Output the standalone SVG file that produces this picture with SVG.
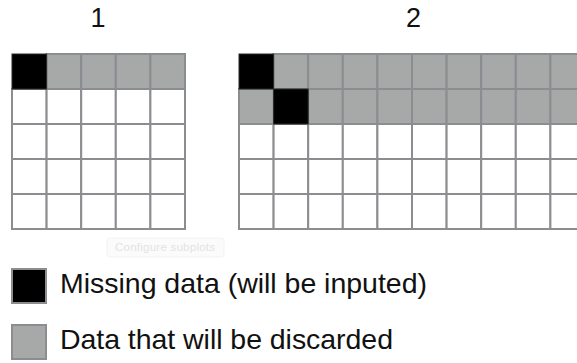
<svg xmlns="http://www.w3.org/2000/svg" width="577" height="363" viewBox="0 0 577 363">
<style>
.w{fill:#ffffff;stroke:#8b8d90;stroke-width:2}
.g{fill:#a6a9a8;stroke:#8b8d90;stroke-width:2}
.b{fill:#000000;stroke:#2a2a2a;stroke-width:1}
.t{font-family:"Liberation Sans",Arial,sans-serif;fill:#111111}
</style>
<defs>
<rect id="c" width="34.6" height="35"/>
</defs>
<rect width="577" height="363" fill="#ffffff"/>
<g id="title1"><text class="t" x="98" y="27" font-size="27" text-anchor="middle">1</text></g>
<g id="title2"><text class="t" x="413.5" y="27" font-size="27" text-anchor="middle">2</text></g>
<g id="grid1">
<g class="g">
<use href="#c" x="46.6" y="54"/><use href="#c" x="81.2" y="54"/><use href="#c" x="115.8" y="54"/><use href="#c" x="150.4" y="54"/>
</g>
<g class="w">
<use href="#c" x="12" y="89"/><use href="#c" x="46.6" y="89"/><use href="#c" x="81.2" y="89"/><use href="#c" x="115.8" y="89"/><use href="#c" x="150.4" y="89"/>
<use href="#c" x="12" y="124"/><use href="#c" x="46.6" y="124"/><use href="#c" x="81.2" y="124"/><use href="#c" x="115.8" y="124"/><use href="#c" x="150.4" y="124"/>
<use href="#c" x="12" y="159"/><use href="#c" x="46.6" y="159"/><use href="#c" x="81.2" y="159"/><use href="#c" x="115.8" y="159"/><use href="#c" x="150.4" y="159"/>
<use href="#c" x="12" y="194"/><use href="#c" x="46.6" y="194"/><use href="#c" x="81.2" y="194"/><use href="#c" x="115.8" y="194"/><use href="#c" x="150.4" y="194"/>
</g>
<use href="#c" class="b" x="12" y="54"/>
</g>
<g id="grid2">
<g class="g">
<use href="#c" x="273.6" y="54"/><use href="#c" x="308.2" y="54"/><use href="#c" x="342.8" y="54"/><use href="#c" x="377.4" y="54"/><use href="#c" x="412" y="54"/><use href="#c" x="446.6" y="54"/><use href="#c" x="481.2" y="54"/><use href="#c" x="515.8" y="54"/><use href="#c" x="550.4" y="54"/>
<use href="#c" x="239" y="89"/><use href="#c" x="308.2" y="89"/><use href="#c" x="342.8" y="89"/><use href="#c" x="377.4" y="89"/><use href="#c" x="412" y="89"/><use href="#c" x="446.6" y="89"/><use href="#c" x="481.2" y="89"/><use href="#c" x="515.8" y="89"/><use href="#c" x="550.4" y="89"/>
</g>
<g class="w">
<use href="#c" x="239" y="124"/><use href="#c" x="273.6" y="124"/><use href="#c" x="308.2" y="124"/><use href="#c" x="342.8" y="124"/><use href="#c" x="377.4" y="124"/><use href="#c" x="412" y="124"/><use href="#c" x="446.6" y="124"/><use href="#c" x="481.2" y="124"/><use href="#c" x="515.8" y="124"/><use href="#c" x="550.4" y="124"/>
<use href="#c" x="239" y="159"/><use href="#c" x="273.6" y="159"/><use href="#c" x="308.2" y="159"/><use href="#c" x="342.8" y="159"/><use href="#c" x="377.4" y="159"/><use href="#c" x="412" y="159"/><use href="#c" x="446.6" y="159"/><use href="#c" x="481.2" y="159"/><use href="#c" x="515.8" y="159"/><use href="#c" x="550.4" y="159"/>
<use href="#c" x="239" y="194"/><use href="#c" x="273.6" y="194"/><use href="#c" x="308.2" y="194"/><use href="#c" x="342.8" y="194"/><use href="#c" x="377.4" y="194"/><use href="#c" x="412" y="194"/><use href="#c" x="446.6" y="194"/><use href="#c" x="481.2" y="194"/><use href="#c" x="515.8" y="194"/><use href="#c" x="550.4" y="194"/>
</g>
<use href="#c" class="b" x="239" y="54"/>
<use href="#c" class="b" x="273.6" y="89"/>
</g>
<g id="configure-button">
<rect x="107" y="238" width="117" height="19" rx="3" fill="#fbfbfb" stroke="#f3f3f3" stroke-width="1"/>
<text x="115" y="251" font-family="'Liberation Sans',Arial,sans-serif" font-size="11.5" fill="#e3e3e3" textLength="100">Configure subplots</text>
</g>
<g id="legend-missing">
<rect x="12" y="269" width="34" height="34" fill="#000000" stroke="#8b8d90" stroke-width="2"/>
<text class="t" x="60" y="293" font-size="28.5" textLength="367">Missing data (will be inputed)</text>
</g>
<g id="legend-discarded">
<rect x="12" y="325" width="34" height="34" fill="#a6a9a8" stroke="#8b8d90" stroke-width="2"/>
<text class="t" x="60" y="349" font-size="28.5" textLength="333">Data that will be discarded</text>
</g>
</svg>
